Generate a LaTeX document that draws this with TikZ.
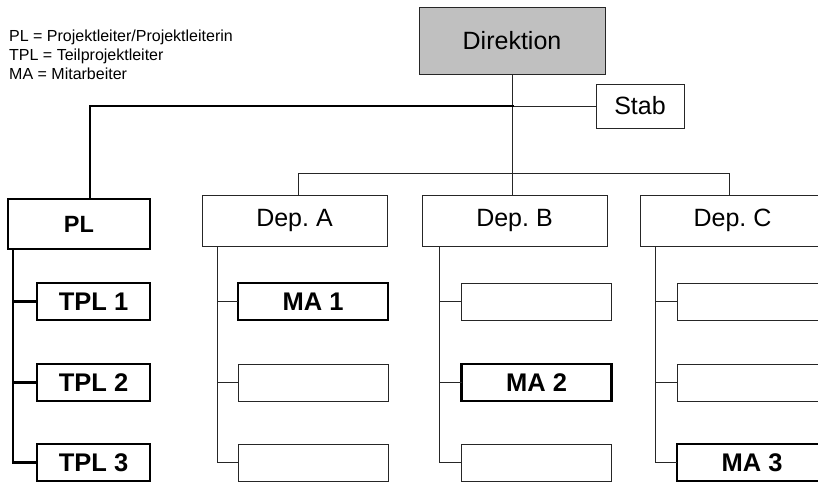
\documentclass[tikz,border=0pt]{standalone}
\usepackage{fontspec}
\setmainfont{Liberation Sans}
\begin{document}
\frenchspacing
\begin{tikzpicture}[x=1pt,y=-1pt,
  thinline/.style={draw=black!85,line width=0.9pt},
  thickline/.style={draw=black,line width=2.6pt},
  box/.style={rectangle,inner sep=0pt,outer sep=0pt,anchor=center},
  thinbox/.style={box,thinline,fill=white,font=\fontsize{25}{28}\selectfont},
  thickbox/.style={box,thickline,fill=white,font=\fontsize{25.5}{28}\selectfont\bfseries},
  subw/.style={minimum width=150pt,minimum height=37pt}
]
\useasboundingbox (0,0) rectangle (818,482);
\clip (0,0) rectangle (818,482);

% legend
\node[anchor=north west,inner sep=0pt,align=left,font=\fontsize{16}{19}\selectfont] (legend) at (9,29.5)
  {PL = Projektleiter/Projektleiterin\\TPL = Teilprojektleiter\\MA = Mitarbeiter};

% top
\node[thinbox,fill={rgb,255:red,192;green,192;blue,192},minimum width=186pt,minimum height=67pt] (dir) at (512,40.5) {Direktion};
\node[thinbox,minimum width=88pt,minimum height=44pt] (stab) at (640,106) {Stab};

% departments
\node[thinbox,minimum width=185pt,minimum height=51pt] (depA) at (294.5,220.5) {Dep. A};
\node[thinbox,minimum width=185pt,minimum height=51pt] (depB) at (514.5,220.5) {Dep. B};
\node[thinbox,minimum width=185pt,minimum height=51pt] (depC) at (732.5,220.5) {Dep. C};

% PL
\node[thickbox,minimum width=142pt,minimum height=50pt,font=\fontsize{23.5}{26}\selectfont\bfseries] (pl) at (79,224) {PL};
\node[thickbox,minimum width=113pt,minimum height=37pt] (tpl1) at (93.5,301.5) {TPL 1};
\node[thickbox,minimum width=113pt,minimum height=37pt] (tpl2) at (93.5,382.5) {TPL 2};
\node[thickbox,minimum width=113pt,minimum height=37pt] (tpl3) at (93.5,462.5) {TPL 3};

% Dep A subs
\node[thickbox,subw] (a1) at (313,301.5) {MA 1};
\node[thinbox,subw] (a2) at (313,382.5) {};
\node[thinbox,subw] (a3) at (313,462.5) {};
% Dep B subs
\node[thinbox,subw] (b1) at (536.5,301.5) {};
\node[thickbox,subw] (b2) at (536.5,382.5) {MA 2};
\node[thinbox,subw] (b3) at (536.5,462.5) {};
% Dep C subs
\node[thinbox,subw] (c1) at (752,301.5) {};
\node[thinbox,subw] (c2) at (752,382.5) {};
\node[thickbox,subw] (c3) at (752,462.5) {MA 3};

% junction coordinates
\coordinate (j1) at (dir.south |- stab.west);

% connectors top
\draw[thinline] (dir.south) -- (dir.south |- depB.north);
\draw[thinline] (j1) -- (stab.west);
\draw[thickline,line cap=rect] ([xshift=0.4pt]j1) -| ([xshift=11pt]pl.north);
\draw[thinline] (298,173) -- (729,173);
\draw[thinline] (298,173) -- (298,195);
\draw[thinline] (729,173) -- (729,195);

% PL spine
\draw[thickline] (13,249) |- (tpl3.west);
\draw[thickline] (13,301.5) -- (tpl1.west);
\draw[thickline] (13,382.5) -- (tpl2.west);

% Dep A spine
\draw[thinline] (217,246) |- (a3.west);
\draw[thinline] (217,301.5) -- (a1.west);
\draw[thinline] (217,382.5) -- (a2.west);
% Dep B spine
\draw[thinline] (439,246) |- (b3.west);
\draw[thinline] (439,301.5) -- (b1.west);
\draw[thinline] (439,382.5) -- (b2.west);
% Dep C spine
\draw[thinline] (655,246) |- (c3.west);
\draw[thinline] (655,301.5) -- (c1.west);
\draw[thinline] (655,382.5) -- (c2.west);
\end{tikzpicture}
\end{document}
